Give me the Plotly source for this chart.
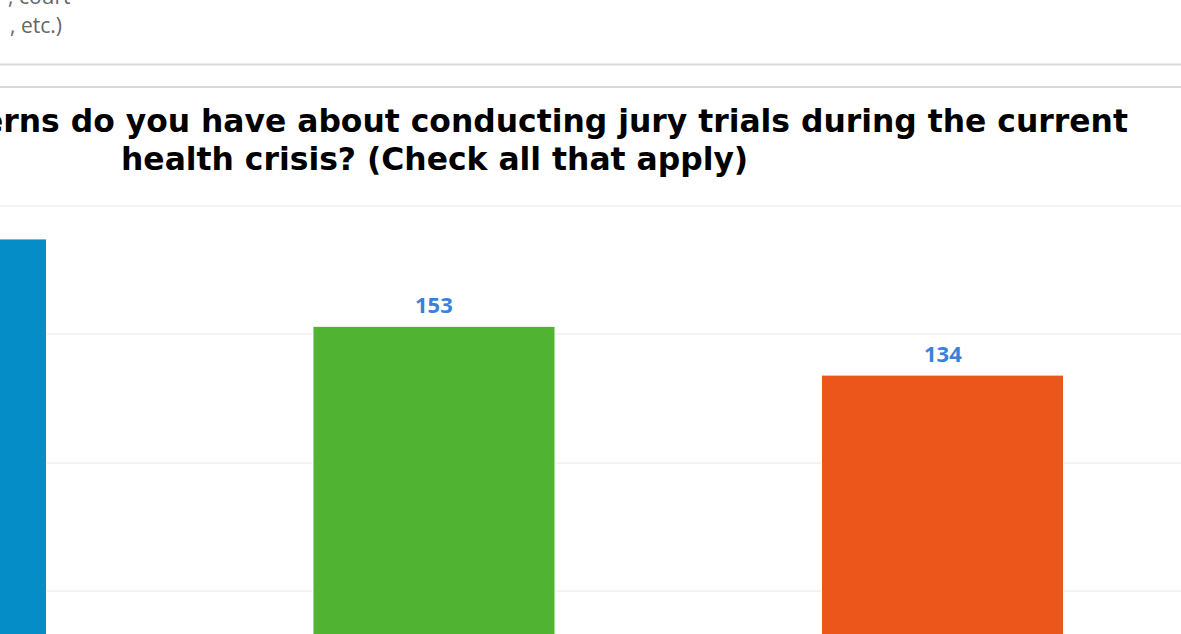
import plotly.graph_objects as go

# ---- data ----
categories = ["Concern A", "Concern B", "Concern C"]
responses = [187, 153, 134]
bar_colors = ["#058DC7", "#50B432", "#ED561B"]
grid_values = [50, 100, 150, 200]
title_line1 = "erns do you have about conducting jury trials during the current"
title_line2 = "health crisis? (Check all that apply)"
prev_text = [", court", ", etc.)"]

# ---- layout helpers (page pixels -> paper coords) ----
W, H = 1181, 634
TOP = 195


def py(pixel_y):
    return (H - pixel_y) / (H - TOP)


def px(pixel_x):
    return pixel_x / W


# y scale: 150 at pixel 334, 2.57 px per unit
scale = 2.57
y_hi = 150 + (334 - TOP) / scale
y_lo = 150 - (H - 334) / scale

# x scale: category 1 centred at 434 px, 508.5 px per category
step = 508.5
x_lo = 1 - 434 / step
x_hi = x_lo + W / step

fig = go.Figure(
    go.Bar(
        x=categories,
        y=responses,
        width=0.476,
        marker=dict(color=bar_colors, line=dict(color="white", width=1)),
        hoverinfo="x+y",
    )
)

annotations = []
for cat, val in zip(categories, responses):
    annotations.append(
        dict(
            x=cat, y=val, xref="x", yref="y", text=str(val), showarrow=False,
            yanchor="bottom", yshift=5,
            font=dict(family="Open Sans", size=22, color="#3a82d8", weight="bold"),
        )
    )

title_size = 31.4
title_font = dict(family="DejaVu Sans", size=title_size, color="#000000", weight="bold")
off = 0.37 * title_size
annotations.append(dict(xref="paper", yref="paper", x=px(1130), y=py(132.7 - off), xanchor="right",
                        yanchor="middle", align="right", text=title_line1, showarrow=False,
                        font=title_font))
annotations.append(dict(xref="paper", yref="paper", x=px(434), y=py(170.7 - off), xanchor="center",
                        yanchor="middle", text=title_line2, showarrow=False, font=title_font))

gray_font = dict(family="Open Sans", size=21, color="#666666")
annotations.append(dict(xref="paper", yref="paper", x=px(73), y=py(-4), xanchor="right",
                        yanchor="middle", text=prev_text[0], showarrow=False, font=gray_font))
annotations.append(dict(xref="paper", yref="paper", x=px(64), y=py(25), xanchor="right",
                        yanchor="middle", text=prev_text[1], showarrow=False, font=gray_font))

shapes = []
for yy in (64.5, 87):
    shapes.append(dict(type="line", xref="paper", yref="paper", x0=0, x1=1, y0=py(yy), y1=py(yy),
                       line=dict(color="#d9d9d9", width=2)))

fig.update_layout(
    width=W, height=H, autosize=False,
    margin=dict(l=0, r=0, t=TOP, b=0, pad=0),
    paper_bgcolor="white", plot_bgcolor="white",
    showlegend=False,
    annotations=annotations,
    shapes=shapes,
    xaxis=dict(range=[x_lo, x_hi], showticklabels=False, showgrid=False, zeroline=False,
               showline=False, ticks=""),
    yaxis=dict(range=[y_lo, y_hi], tickvals=grid_values, showticklabels=False,
               gridcolor="#f3f3f3", gridwidth=2, zeroline=False, showline=False, ticks=""),
)

fig.write_html("out.html", config={"displayModeBar": False},
               post_script="document.body.style.margin='0';")
